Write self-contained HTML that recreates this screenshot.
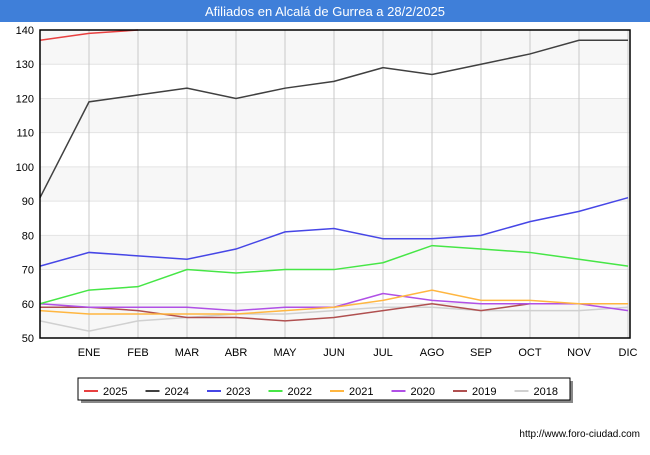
<!DOCTYPE html>
<html><head><meta charset="utf-8"><style>
body{margin:0;width:650px;height:450px;background:#fff;font-family:"Liberation Sans","DejaVu Sans",sans-serif;}
</style></head><body>
<svg id="c" width="650" height="450" xmlns="http://www.w3.org/2000/svg">
<rect x="0" y="0" width="650" height="22" fill="#3f7fd9"/>
<text x="325" y="16" text-anchor="middle" font-size="13" fill="#fff">Afiliados en Alcalá de Gurrea a 28/2/2025</text>
<g id="bands"></g><g id="grid"></g><g id="series"></g><g id="axes"></g>
<text x="640" y="437" text-anchor="end" font-size="10" fill="#000">http://www.foro-ciudad.com</text>
</svg>
<script>
const months=["","ENE","FEB","MAR","ABR","MAY","JUN","JUL","AGO","SEP","OCT","NOV","DIC"];
const yTicks=[50,60,70,80,90,100,110,120,130,140];
const seriesNames=["2025","2024","2023","2022","2021","2020","2019","2018"];
const colors=["#e84040","#404040","#4646e6","#46e646","#ffb640","#b050e6","#b05050","#d0d0d0"];
const s2025=[137,139,140];
const s2024=[91,119,121,123,120,123,125,129,127,130,133,137,137];
const s2023=[71,75,74,73,76,81,82,79,79,80,84,87,91];
const s2022=[60,64,65,70,69,70,70,72,77,76,75,73,71];
const s2021=[58,57,57,57,57,58,59,61,64,61,61,60,60];
const s2020=[60,59,59,59,58,59,59,63,61,60,60,60,58];
const s2019=[59,59,58,56,56,55,56,58,60,58,60,60,60];
const s2018=[55,52,55,56,57,57,58,59,59,58,58,58,59];
const data=[s2025,s2024,s2023,s2022,s2021,s2020,s2019,s2018];
const X0=40,X1=628,Y0=338,Y1=30;
const xs=i=>X0+i*(X1-X0)/12;
const ys=v=>Y0-(v-50)*(Y0-Y1)/90;
const NS="http://www.w3.org/2000/svg";
function mk(t,a,p){const e=document.createElementNS(NS,t);for(const k in a)e.setAttribute(k,a[k]);p.appendChild(e);return e;}
const bands=document.getElementById('bands'),grid=document.getElementById('grid'),ser=document.getElementById('series'),ax=document.getElementById('axes');
for(let i=0;i<yTicks.length-1;i+=2){const r=mk('rect',{x:X0,y:ys(yTicks[i+1]),width:X1-X0+2,height:ys(yTicks[i])-ys(yTicks[i+1]),fill:'#f7f7f7'},bands);

}
yTicks.forEach(v=>{const l=mk('line',{x1:X0,x2:X1+2,y1:ys(v),y2:ys(v),stroke:'#e4e4e4'},grid);


const t=mk('text',{x:X0-6,y:ys(v)+4,'text-anchor':'end','font-size':11,fill:'#000'},ax);t.textContent=v;

});
months.forEach((m,i)=>{if(i>0){const l=mk('line',{x1:xs(i),x2:xs(i),y1:Y1,y2:Y0,stroke:'#c8c8c8'},grid);

}
const t=mk('text',{x:xs(i),y:356,'text-anchor':'middle','font-size':11,fill:'#000'},ax);t.textContent=m;

});
const fr=mk('rect',{x:X0,y:Y1,width:X1-X0+2,height:Y0-Y1,fill:'none',stroke:'#000','stroke-width':1.5},ax);


for(let k=data.length-1;k>=0;k--){const pts=data[k].map((v,i)=>xs(i)+','+ys(v)).join(' ');
const p=mk('polyline',{points:pts,fill:'none',stroke:colors[k],'stroke-width':1.5},ser);

}
const lg=mk('g',{},ax);


mk('rect',{x:81,y:381,width:492,height:22,fill:'#888'},lg);
mk('rect',{x:78,y:378,width:492,height:22,fill:'#fff',stroke:'#000'},lg);
seriesNames.forEach((n,k)=>{const x=84+k*61.5;
const l=mk('line',{x1:x,x2:x+14,y1:391,y2:391,stroke:colors[k],'stroke-width':2},lg);


const t=mk('text',{x:x+19,y:395,'font-size':11,fill:'#000'},lg);t.textContent=n;

});
</script>
</body></html>
